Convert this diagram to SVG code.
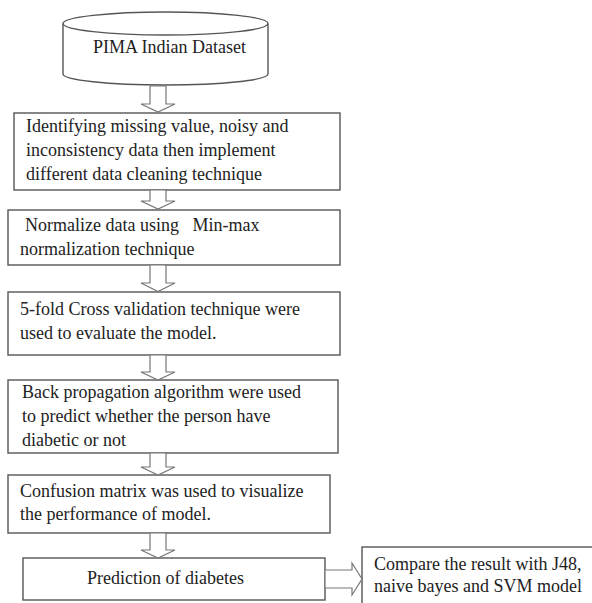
<svg xmlns="http://www.w3.org/2000/svg" width="592" height="603" viewBox="0 0 592 603">
<style>
.box{fill:#fff;stroke:#555;stroke-width:1.4}
.arr{fill:#fff;stroke:#777;stroke-width:1.2;stroke-linejoin:miter}
text{font-family:"Liberation Serif","Times New Roman",serif;font-size:18px;fill:#222}
</style>
<rect width="592" height="603" fill="#fff"/>
<g id="dataset">
<path class="box" d="M63,23.5 L63,74 A102.5,11 0 0 0 268,74 L268,23.5"/>
<ellipse class="box" cx="165.5" cy="23.5" rx="102.5" ry="11.5"/>
<text x="93" y="53">PIMA Indian Dataset</text>
</g>
<g id="cleaning">
<rect class="box" x="14" y="113" width="326" height="77"/>
<text x="26" y="132">Identifying missing value, noisy and</text>
<text x="26" y="156">inconsistency data then implement</text>
<text x="26" y="180">different data cleaning technique</text>
</g>
<g id="normalize">
<rect class="box" x="8" y="210" width="332" height="55"/>
<text x="25" y="231" xml:space="preserve">Normalize data using   Min-max</text>
<text x="20" y="255">normalization technique</text>
</g>
<g id="crossval">
<rect class="box" x="8" y="292" width="332" height="63"/>
<text x="20" y="315">5-fold Cross validation technique were</text>
<text x="20" y="339">used to evaluate the model.</text>
</g>
<g id="backprop">
<rect class="box" x="8" y="380" width="330" height="73"/>
<text x="22" y="398">Back propagation algorithm were used</text>
<text x="22" y="422">to predict whether the person have</text>
<text x="22" y="446">diabetic or not</text>
</g>
<g id="confusion">
<rect class="box" x="8" y="475" width="322" height="58"/>
<text x="20" y="497">Confusion matrix was used to visualize</text>
<text x="20" y="520">the performance of model.</text>
</g>
<g id="prediction">
<rect class="box" x="23" y="558" width="302" height="42"/>
<text x="87" y="584">Prediction of diabetes</text>
</g>
<g id="compare">
<rect class="box" x="362" y="547" width="260" height="80"/>
<text x="374" y="570">Compare the result with J48,</text>
<text x="374" y="592">naive bayes and SVM model</text>
</g>
<g id="connectors">
<polygon class="arr" points="150,86 166,86 166,104 175,104 158,112 141,104 150,104"/>
<polygon class="arr" points="150,190 166,190 166,201 175,201 158,209 141,201 150,201"/>
<polygon class="arr" points="150,265 166,265 166,283 175,283 158,291.5 141,283 150,283"/>
<polygon class="arr" points="150,355 166,355 166,372 175,372 158,380 141,372 150,372"/>
<polygon class="arr" points="150,453 166,453 166,467 175,467 158,475 141,467 150,467"/>
<polygon class="arr" points="150,533 166,533 166,550 175,550 158,558 141,550 150,550"/>
<polygon class="arr" points="325,570 352,570 352,563 362,579 352,595 352,588 325,588"/>
</g>
</svg>
